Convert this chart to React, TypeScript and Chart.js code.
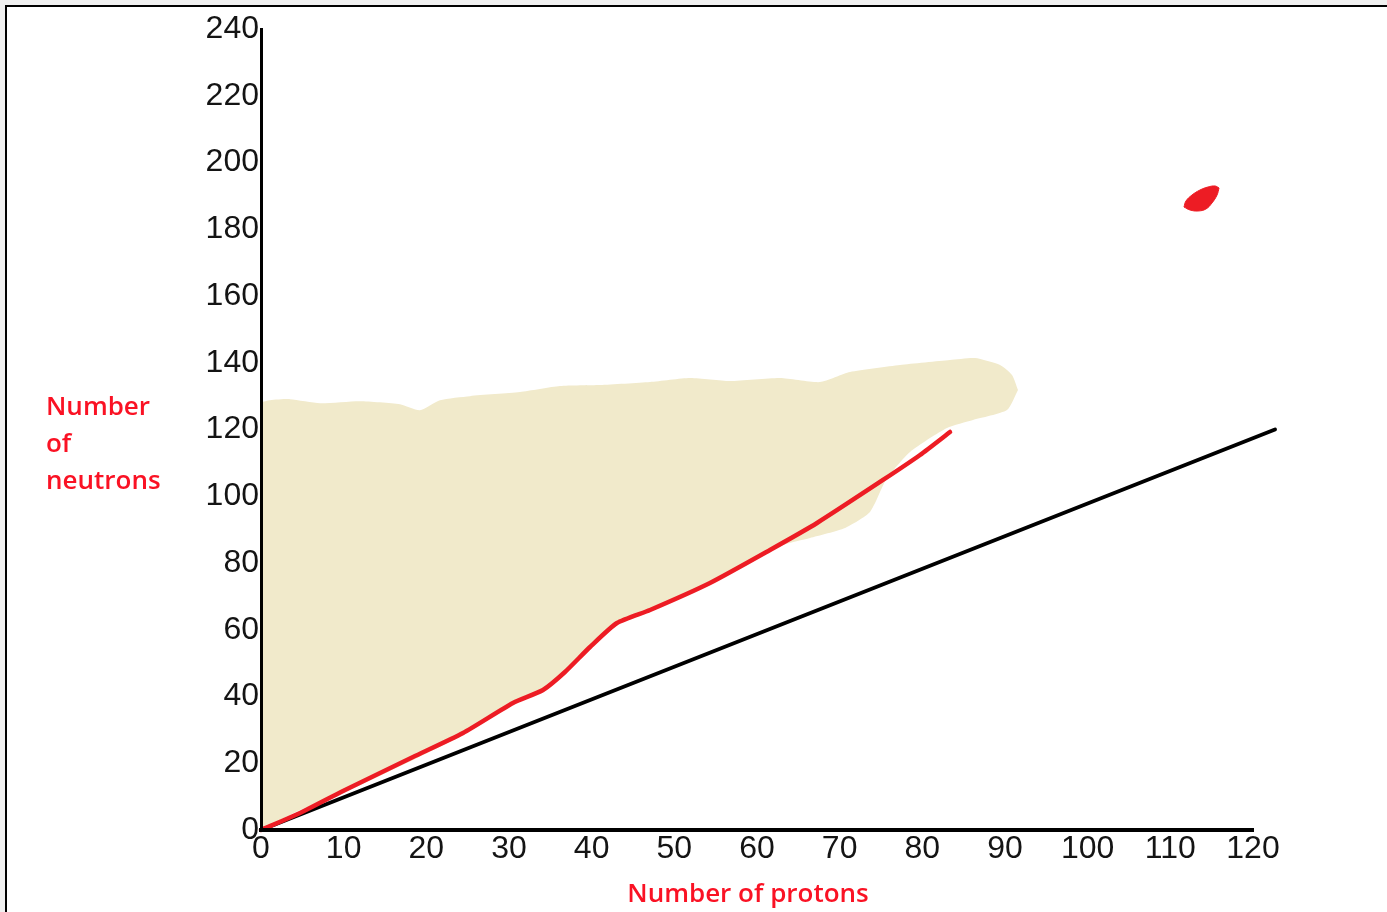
import React, { useEffect, useRef } from 'react';
import { Chart, registerables } from 'chart.js';

Chart.register(...registerables);

// Axis ticks
const protonTicks = [0, 10, 20, 30, 40, 50, 60, 70, 80, 90, 100, 110, 120];
const neutronTicks = [0, 20, 40, 60, 80, 100, 120, 140, 160, 180, 200, 220, 240];

// Titles
const xTitle = 'Number of protons';
const yTitleLines = ['Number', 'of', 'neutrons'];

// Beige cloud of known nuclides: upper edge
const cloudTopZ = [0, 1.09, 3.51, 7.14, 11.98, 16.81, 19.23, 21.65, 25.28, 31.33, 36.17, 41.01, 47.06, 51.9, 56.73, 62.78, 67.62, 71.25, 77.3, 83.35, 86.37, 89.4, 90.85, 91.57];
const cloudTopN = [128.2, 128.8, 129.1, 127.9, 128.5, 127.6, 125.8, 128.8, 130.0, 131.2, 133.0, 133.3, 134.2, 135.4, 134.5, 135.4, 134.2, 137.2, 139.3, 140.8, 141.4, 139.3, 136.3, 131.8];
// lower edge
const cloudBottomZ = [0, 4.72, 9.92, 18.39, 24.44, 30.48, 34.35, 38.59, 40.4, 43.06, 47.06, 54.31, 57.94, 63.15, 66.41, 70.65, 73.67, 75.6, 78.51, 82.98, 86.13, 90.24, 91.57];
const cloudBottomN = [0, 5.99, 11.09, 20.97, 28.46, 37.45, 41.95, 52.43, 55.43, 61.42, 65.32, 74.01, 79.4, 85.39, 87.49, 90.49, 95.28, 104.87, 113.26, 120.45, 122.85, 125.84, 131.84];

// Red band of stability
const stableZ = [0, 4.72, 9.92, 18.39, 24.44, 30.48, 34.11, 36.77, 39.8, 43.06, 47.06, 54.31, 61.57, 67.26, 75.24, 79.72, 83.35];
const stableN = [0, 5.09, 11.69, 21.87, 29.06, 38.05, 41.95, 47.34, 54.83, 62.02, 65.92, 74.01, 83.9, 91.99, 104.87, 112.36, 119.25];

// N = Z line
const equalZ = [0, 122.66];
const equalN = [0, 120.0];

// Red island blob (upper and lower outline)
const blobTopZ = [111.65, 111.89, 112.62, 113.59, 114.56, 115.41, 115.89];
const blobTopN = [186.67, 188.46, 190.26, 191.76, 192.66, 192.96, 192.36];
const blobBottomZ = [111.65, 112.38, 113.35, 114.31, 115.04, 115.65, 115.89];
const blobBottomN = [186.67, 185.77, 185.47, 186.07, 187.87, 190.26, 192.36];

const RED = '#ed1c24';
const TITLE_RED = '#fa1224';
const BEIGE = 'rgb(241,234,203)';

const pts = (xs: number[], ys: number[]) => xs.map((x, i) => ({ x, y: ys[i] }));

export default function App() {
  const ref = useRef<HTMLCanvasElement>(null);

  useEffect(() => {
    if (!ref.current) return;
    const titlePlugin = {
      id: 'titles',
      afterDraw(chart: any) {
        const ctx = chart.ctx;
        ctx.save();
        ctx.fillStyle = TITLE_RED;
        ctx.font = '600 26px "Open Sans"';
        ctx.textBaseline = 'alphabetic';
        ctx.textAlign = 'left';
        yTitleLines.forEach((t, i) => ctx.fillText(t, 46, 415 + i * 37));
        ctx.textAlign = 'center';
        ctx.fillText(xTitle, 748, 902);
        ctx.restore();
      },
    };

    const common = { pointRadius: 0, pointHoverRadius: 0, clip: false as const };

    const chart = new Chart(ref.current, {
      type: 'line',
      data: {
        datasets: [
          { ...common, data: pts(blobTopZ, blobTopN), borderColor: RED, borderWidth: 1, backgroundColor: RED, fill: '+1', tension: 0.4 },
          { ...common, data: pts(blobBottomZ, blobBottomN), borderColor: RED, borderWidth: 1, fill: false, tension: 0.4 },
          { ...common, data: pts(stableZ, stableN), borderColor: RED, borderWidth: 4.5, fill: false, tension: 0.2, borderCapStyle: 'round', borderJoinStyle: 'round' },
          { ...common, data: pts(equalZ, equalN), borderColor: '#000', borderWidth: 4, fill: false, borderCapStyle: 'round' },
          { ...common, data: pts(cloudTopZ, cloudTopN), borderWidth: 0, borderColor: 'rgba(0,0,0,0)', backgroundColor: BEIGE, fill: '+1', tension: 0.2 },
          { ...common, data: pts(cloudBottomZ, cloudBottomN), borderWidth: 0, borderColor: 'rgba(0,0,0,0)', fill: false, tension: 0.2 },
        ],
      },
      options: {
        animation: false,
        responsive: false,
        events: [],
        layout: { padding: { left: 0, top: 29, right: 134, bottom: 0 } },
        plugins: { legend: { display: false }, tooltip: { enabled: false }, title: { display: false } },
        scales: {
          x: {
            type: 'linear',
            min: 0,
            max: 120,
            grid: { display: false, drawTicks: false },
            border: { display: true, color: '#000', width: 4, z: 1 },
            afterBuildTicks: (scale: any) => { scale.ticks = protonTicks.map((v) => ({ value: v })); },
            afterFit: (scale: any) => { scale.height = 82; },
            ticks: {
              autoSkip: false,
              maxRotation: 0,
              padding: 0,
              color: '#141414',
              font: { family: '"Liberation Sans", Arial, sans-serif', size: 32 },
            },
          },
          y: {
            type: 'linear',
            min: 0,
            max: 240,
            grid: { display: false, drawTicks: false },
            border: { display: true, color: '#000', width: 3, z: 1 },
            afterBuildTicks: (scale: any) => { scale.ticks = neutronTicks.map((v) => ({ value: v })); },
            afterFit: (scale: any) => { scale.width = 261; },
            ticks: {
              autoSkip: false,
              padding: 2,
              color: '#141414',
              font: { family: '"Liberation Sans", Arial, sans-serif', size: 32 },
            },
          },
        },
      },
      plugins: [titlePlugin],
    } as any);

    return () => chart.destroy();
  }, []);

  return (
    <div style={{ position: 'fixed', left: 0, top: 0, width: 1387, height: 912, background: '#f0f0f0', overflow: 'hidden' }}>
      <div style={{ position: 'absolute', left: 5, top: 5, right: 0, bottom: 0, background: '#fff', borderTop: '2px solid #000', borderLeft: '2px solid #000' }} />
      <canvas ref={ref} width={1387} height={912} style={{ position: 'absolute', left: 0, top: 0 }} />
    </div>
  );
}
